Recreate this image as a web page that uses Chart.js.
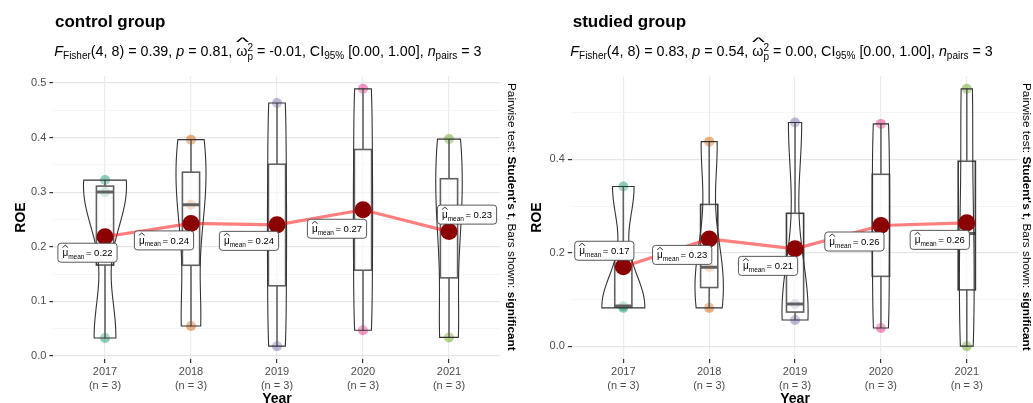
<!DOCTYPE html>
<html><head><meta charset="utf-8">
<script src="https://cdn.jsdelivr.net/npm/chart.js@4.4.0/dist/chart.umd.min.js"></script>
<style>
body{margin:0;background:#fff;width:1033px;height:403px;overflow:hidden;position:relative;font-family:"Liberation Sans",Arial,sans-serif;color:#000;}
.panel{position:absolute;top:0;height:403px;}
.panel canvas{position:absolute;left:0;top:0;}
.title{position:absolute;font-weight:bold;font-size:17px;line-height:17px;white-space:nowrap;}
.sub{position:absolute;font-size:14.3px;line-height:14px;white-space:nowrap;}
.sub sub{font-size:10px;vertical-align:-3px;line-height:0;}
.om{position:relative;display:inline-block;}
.hat{position:absolute;left:0px;top:-9px;font-size:12px;transform:scaleX(2.3);transform-origin:0 0;}
.stk{display:inline-block;vertical-align:-4px;font-size:10px;line-height:9px;}
.stk span{display:block;}
.cap{position:absolute;font-size:11.8px;line-height:13px;white-space:nowrap;transform-origin:0 0;transform:rotate(90deg);}
</style></head>
<body>
<div class="panel" style="left:0;width:516px"><canvas id="c1" width="516" height="403"></canvas></div>
<div class="panel" style="left:516px;width:517px"><canvas id="c2" width="517" height="403"></canvas></div>

<div class="title" style="left:55px;top:12.6px">control group</div>
<div class="title" style="left:572.7px;top:12.6px">studied group</div>

<div class="sub" style="left:54.3px;top:43px"><i>F</i><sub>Fisher</sub>(4, 8) = 0.39, <i>p</i> = 0.81, <span class="om">ω<span class="hat">^</span></span><span class="stk"><span>2</span><span>p</span></span> = -0.01, CI<sub>95%</sub> [0.00, 1.00], <i>n</i><sub>pairs</sub> = 3</div>
<div class="sub" style="left:570.3px;top:43px"><i>F</i><sub>Fisher</sub>(4, 8) = 0.83, <i>p</i> = 0.54, <span class="om">ω<span class="hat">^</span></span><span class="stk"><span>2</span><span>p</span></span> = 0.00, CI<sub>95%</sub> [0.00, 1.00], <i>n</i><sub>pairs</sub> = 3</div>

<div class="cap" style="left:517.5px;top:83px">Pairwise test: <b>Student's t</b>, Bars shown: <b>significant</b></div>
<div class="cap" style="left:1032.5px;top:83px">Pairwise test: <b>Student's t</b>, Bars shown: <b>significant</b></div>

<script>
// ---------- data ----------
const categories = ['2017', '2018', '2019', '2020', '2021'];
const sampleSizes = [3, 3, 3, 3, 3];

// control group: ROE of the three paired firms per year
const ctrl2017 = [0.033, 0.300, 0.322];
const ctrl2018 = [0.055, 0.277, 0.396];
const ctrl2019 = [0.018, 0.239, 0.463];
const ctrl2020 = [0.047, 0.267, 0.489];
const ctrl2021 = [0.034, 0.252, 0.397];

// studied group
const stud2017 = [0.082, 0.086, 0.342];
const stud2018 = [0.082, 0.169, 0.438];
const stud2019 = [0.056, 0.090, 0.479];
const stud2020 = [0.039, 0.260, 0.476];
const stud2021 = [0.000, 0.241, 0.551];

// y-axis major tick labels
const ctrlYTicks = [0.0, 0.1, 0.2, 0.3, 0.4, 0.5];
const studYTicks = [0.0, 0.2, 0.4];

// ---------- styles ----------
const FONT = '"Liberation Sans", Arial, sans-serif';
Chart.defaults.font.family = FONT;
const pointColors = ['rgba(27,158,119,0.5)', 'rgba(217,95,2,0.5)', 'rgba(117,112,179,0.5)', 'rgba(231,41,138,0.5)', 'rgba(102,166,30,0.5)'];
// label nudges (pixels, relative to the mean marker), as ggrepel placed them
const ctrlLabelNudge = [[-17.5, 16], [-27, 17], [-28, 16], [-26, 19], [18, -17]];
const studLabelNudge = [[-19, -16], [-27, 16], [-27, 17], [-26.5, 16], [-27, 17]];

// ---------- helpers ----------
const mean = a => a.reduce((s, v) => s + v, 0) / a.length;
function q7(sorted, p) {
  const h = (sorted.length - 1) * p, lo = Math.floor(h);
  const hi = Math.min(lo + 1, sorted.length - 1);
  return sorted[lo] + (h - lo) * (sorted[hi] - sorted[lo]);
}
function bwNrd0(x) {
  const n = x.length, m = mean(x);
  const sd = Math.sqrt(x.reduce((s, v) => s + (v - m) * (v - m), 0) / (n - 1));
  const s = [...x].sort((a, b) => a - b);
  const iqr = q7(s, 0.75) - q7(s, 0.25);
  let lo = Math.min(sd, iqr / 1.34);
  if (!lo) lo = sd || Math.abs(x[0]) || 1;
  return 0.9 * lo * Math.pow(n, -0.2);
}
function kde(x, bw, t) {
  let s = 0;
  for (const v of x) { const z = (t - v) / bw; s += Math.exp(-0.5 * z * z); }
  return s / (x.length * bw * Math.sqrt(2 * Math.PI));
}

const statsLayers = {
  id: 'statsLayers',
  afterDatasetDraw(chart, args, opts) {
    if (args.index !== 1) return;
    const { ctx, chartArea, scales: { x, y } } = chart;
    const groups = opts.groups;
    const N = 120;
    const dens = groups.map(g => {
      const s = [...g].sort((a, b) => a - b), bw = bwNrd0(g);
      const lo = s[0], hi = s[s.length - 1];
      const arr = [];
      for (let k = 0; k <= N; k++) { const t = lo + (hi - lo) * k / N; arr.push([t, kde(g, bw, t)]); }
      return arr;
    });
    const maxD = Math.max(...dens.flat().map(d => d[1]));
    ctx.save();
    ctx.beginPath(); ctx.rect(chartArea.left, chartArea.top, chartArea.right - chartArea.left, chartArea.bottom - chartArea.top); ctx.clip();
    groups.forEach((g, i) => {
      const s = [...g].sort((a, b) => a - b);
      const xc = x.getPixelForValue(i + 1);
      // boxplot
      const q1 = q7(s, 0.25), q3 = q7(s, 0.75), md = q7(s, 0.5);
      const xl = x.getPixelForValue(i + 1 - 0.1), xr = x.getPixelForValue(i + 1 + 0.1);
      const y1 = y.getPixelForValue(q1), y3 = y.getPixelForValue(q3);
      ctx.fillStyle = 'rgba(255,255,255,0.5)';
      ctx.fillRect(xl, y3, xr - xl, y1 - y3);
      ctx.strokeStyle = '#3a3a3a'; ctx.lineWidth = 1.6;
      ctx.strokeRect(xl, y3, xr - xl, y1 - y3);
      ctx.beginPath();
      ctx.moveTo(xc, y3); ctx.lineTo(xc, y.getPixelForValue(s[s.length - 1]));
      ctx.moveTo(xc, y1); ctx.lineTo(xc, y.getPixelForValue(s[0]));
      ctx.stroke();
      ctx.lineWidth = 3;
      ctx.beginPath(); const ym = y.getPixelForValue(md); ctx.moveTo(xl, ym); ctx.lineTo(xr, ym); ctx.stroke();
      // violin
      const d = dens[i];
      ctx.beginPath();
      d.forEach(([t, v], k) => {
        const px = x.getPixelForValue(i + 1 + v / maxD * 0.25), py = y.getPixelForValue(t);
        k ? ctx.lineTo(px, py) : ctx.moveTo(px, py);
      });
      for (let k = d.length - 1; k >= 0; k--) {
        const [t, v] = d[k];
        ctx.lineTo(x.getPixelForValue(i + 1 - v / maxD * 0.25), y.getPixelForValue(t));
      }
      ctx.closePath();
      ctx.fillStyle = 'rgba(255,255,255,0.2)'; ctx.fill();
      ctx.strokeStyle = '#333'; ctx.lineWidth = 1.1; ctx.stroke();
    });
    ctx.restore();
  },
  afterDatasetsDraw(chart, args, opts) {
    const { ctx, scales: { x, y } } = chart;
    opts.groups.forEach((g, i) => {
      const m = mean(g);
      const cx = x.getPixelForValue(i + 1) + opts.nudge[i][0];
      const cy = y.getPixelForValue(m) + opts.nudge[i][1];
      const num = '= ' + m.toFixed(2);
      ctx.save();
      ctx.font = '10px ' + FONT; const wMu = ctx.measureText('μ').width;
      ctx.font = '6.5px ' + FONT; const wSub = ctx.measureText('mean').width;
      ctx.font = '9.5px ' + FONT; const wNum = ctx.measureText(num).width;
      const pad = 4.5, gap = 1.5;
      const w = pad * 2 + wMu + wSub + gap + wNum, h = 19;
      const x0 = cx - w / 2, y0 = cy - h / 2;
      ctx.beginPath(); ctx.roundRect(x0, y0, w, h, 3);
      ctx.fillStyle = '#fff'; ctx.fill();
      ctx.strokeStyle = '#444'; ctx.lineWidth = 0.9; ctx.stroke();
      ctx.fillStyle = '#000'; ctx.textBaseline = 'alphabetic'; ctx.textAlign = 'left';
      let tx = x0 + pad;
      const base = y0 + 13;
      ctx.font = '10px ' + FONT; ctx.fillText('μ', tx, base);
      ctx.beginPath(); ctx.lineWidth = 0.8; ctx.strokeStyle = '#000';
      ctx.moveTo(tx, base - 8.5); ctx.lineTo(tx + wMu / 2, base - 11); ctx.lineTo(tx + wMu, base - 8.5); ctx.stroke();
      tx += wMu;
      ctx.font = '6.5px ' + FONT; ctx.fillText('mean', tx, base + 2.5);
      tx += wSub + gap;
      ctx.font = '9.5px ' + FONT; ctx.fillText(num, tx, base);
      ctx.restore();
    });
  }
};

function makePanel(id, groups, majors, nudge, yAxisWidth, rightPad) {
  const all = groups.flat();
  const lo = Math.min(...all), hi = Math.max(...all), pad = 0.05 * (hi - lo);
  const ymin = lo - pad, ymax = hi + pad;
  const step = majors[1] - majors[0];
  const tickVals = [];
  majors.forEach(t => { tickVals.push(t); if (t + step / 2 <= ymax) tickVals.push(t + step / 2); });
  const isMajor = v => majors.some(t => Math.abs(t - v) < 1e-9);
  const means = groups.map(mean);
  const pts = [];
  groups.forEach((g, i) => g.forEach(v => pts.push({ x: i + 1, y: v })));
  new Chart(document.getElementById(id), {
    type: 'scatter',
    data: {
      datasets: [
        { type: 'line', data: means.map((m, i) => ({ x: i + 1, y: m })), borderColor: 'rgba(255,0,0,0.5)', borderWidth: 3.2,
          pointRadius: 8.5, pointBackgroundColor: '#8B0000', pointBorderColor: '#8B0000', pointBorderWidth: 0, tension: 0, fill: false },
        { type: 'scatter', data: pts, pointRadius: 5, pointBorderWidth: 0,
          pointBackgroundColor: c => pointColors[(c.raw ? c.raw.x : 1) - 1] }
      ]
    },
    options: {
      responsive: false, animation: false, events: [],
      layout: { padding: { top: 76, right: rightPad, left: 0, bottom: 0 } },
      plugins: { legend: { display: false }, tooltip: { enabled: false }, statsLayers: { groups, nudge } },
      scales: {
        x: {
          type: 'linear', min: 0.4, max: 5.6,
          afterBuildTicks: s => { s.ticks = categories.map((c, i) => ({ value: i + 1 })); },
          afterFit: s => { s.height = 44; },
          border: { display: false },
          grid: { color: '#EBEBEB', lineWidth: 1.2, tickColor: '#333', tickLength: 4, tickWidth: 1.2 },
          ticks: { autoSkip: false, maxRotation: 0, padding: 2, color: '#4D4D4D', font: { size: 11, lineHeight: 1.27 },
            callback: v => [categories[v - 1], '(n = ' + sampleSizes[v - 1] + ')'] },
          title: { display: true, text: 'Year', color: '#000', font: { size: 14, weight: 'bold', lineHeight: 1 }, padding: { top: 0, bottom: -3 } }
        },
        y: {
          type: 'linear', min: ymin, max: ymax,
          afterBuildTicks: s => { s.ticks = tickVals.map(v => ({ value: v })); },
          afterFit: s => { s.width = yAxisWidth; },
          border: { display: false },
          grid: { color: c => isMajor(c.tick.value) ? '#E6E6E6' : '#F2F2F2', lineWidth: c => isMajor(c.tick.value) ? 1.2 : 0.8,
            tickColor: c => isMajor(c.tick.value) ? '#333' : 'rgba(0,0,0,0)', tickLength: 4, tickWidth: 1.2 },
          ticks: { autoSkip: false, padding: 3, color: '#4D4D4D', font: { size: 11 },
            callback: v => isMajor(v) ? v.toFixed(1) : '' },
          title: { display: true, text: 'ROE', color: '#000', font: { size: 14, weight: 'bold', lineHeight: 1.2 }, padding: { top: 12.6, bottom: 0 } }
        }
      }
    },
    plugins: [statsLayers]
  });
}

makePanel('c1', [ctrl2017, ctrl2018, ctrl2019, ctrl2020, ctrl2021], ctrlYTicks, ctrlLabelNudge, 53.4, 15.4);
makePanel('c2', [stud2017, stud2018, stud2019, stud2020, stud2021], studYTicks, studLabelNudge, 55.8, 14.7);
</script>
</body></html>
